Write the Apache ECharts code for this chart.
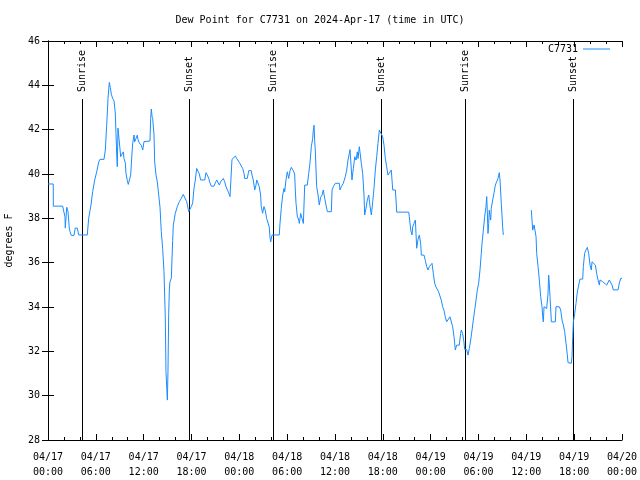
<!DOCTYPE html>
<html>
<head>
<meta charset="utf-8">
<script src="https://cdn.jsdelivr.net/npm/echarts@6/dist/echarts.min.js"></script>
<style>html,body{margin:0;padding:0;background:#fff}#c{width:640px;height:480px}</style>
</head>
<body>
<div id="c"></div>
<script>
// Hours since 2024-04-17 00:00 UTC
const hours = [
0,0.66,0.67,1.84,2.13,2.17,2.35,2.51,2.67,2.76,2.92,3.26,3.42,3.68,3.85,4.93,5.1,5.39,5.6,5.86,
6.11,6.36,6.52,7.02,7.19,7.36,7.53,7.69,7.82,7.94,8.11,8.28,8.44,8.62,8.69,8.78,8.94,9.12,9.28,9.45,
9.53,9.7,9.78,9.95,10.07,10.2,10.37,10.54,10.62,10.79,10.87,11.04,11.2,11.29,11.45,11.7,11.88,12.04,12.2,12.79,
12.88,12.96,13.05,13.13,13.3,13.38,13.55,13.71,13.89,14.05,14.21,14.38,14.55,14.71,14.8,14.97,15.05,15.14,15.22,15.3,
15.47,15.55,15.64,15.72,15.97,16.22,16.47,16.72,16.97,17.22,17.4,17.65,17.81,17.98,18.15,18.31,18.48,18.65,18.82,18.98,
19.15,19.66,19.82,19.99,20.16,20.32,20.49,20.82,20.99,21.16,21.32,21.49,21.66,21.83,21.99,22.16,22.33,22.5,22.67,22.83,
22.99,23.08,23.33,23.5,23.67,23.83,24.0,24.17,24.42,24.59,24.67,25.0,25.18,25.5,25.59,25.75,25.93,26.09,26.18,26.34,
26.5,26.67,26.75,26.92,27.09,27.25,27.42,27.59,27.75,27.84,27.93,28.1,29.01,29.1,29.26,29.44,29.6,29.69,29.85,30.02,
30.19,30.36,30.52,30.77,30.94,31.02,31.11,31.27,31.45,31.52,31.7,31.86,32.03,32.2,32.53,32.7,32.86,33.03,33.2,33.28,
33.37,33.45,33.53,33.62,33.7,33.87,33.95,34.03,34.2,34.37,34.53,34.71,34.87,35.04,35.54,35.63,35.8,36.04,36.54,36.63,
36.79,37.04,37.29,37.47,37.63,37.8,37.88,37.97,38.13,38.3,38.48,38.64,38.8,38.89,39.05,39.13,39.3,39.47,39.64,39.72,
39.89,40.05,40.23,40.4,40.56,40.73,40.89,41.06,41.23,41.39,41.56,41.64,41.73,41.98,42.15,42.31,42.48,42.65,42.81,43.06,
43.15,43.24,43.57,43.65,43.74,45.25,45.32,45.5,45.66,45.75,45.91,46.08,46.16,46.25,46.41,46.58,46.75,46.83,47.17,47.33,
47.5,47.67,47.83,48.0,48.17,48.33,48.5,48.66,48.83,49.0,49.17,49.33,49.5,49.67,49.83,50.0,50.17,50.42,50.58,50.76,
50.93,51.09,51.26,51.59,51.76,51.84,52.01,52.17,52.26,52.52,52.68,52.85,53.02,53.19,53.35,53.52,53.69,53.85,54.02,54.19,
54.35,54.44,54.61,54.77,54.94,55.03,55.1,55.19,55.28,55.35,55.53,55.6,55.78,55.94,56.11,56.28,56.45,56.61,56.7,56.86,
57.03,57.11,58.9,
60.63,60.71,60.8,60.97,61.13,61.22,61.3,61.47,61.63,61.8,61.97,62.05,62.13,62.22,62.38,62.55,62.72,62.8,62.88,62.97,
63.14,63.64,63.72,64.14,64.31,64.48,64.64,64.81,64.98,65.14,65.23,65.64,65.73,65.82,65.9,66.07,66.23,66.4,66.57,66.73,
67.07,67.15,67.31,67.48,67.65,67.82,67.99,68.15,68.24,68.49,68.66,68.82,68.99,69.16,69.24,69.41,69.58,69.83,70.08,70.25,
70.41,70.58,70.75,70.91,71.5,71.66,71.83,72.0
];
const dewPoint = [
39.55,39.55,38.55,38.55,38.07,37.56,38.5,38.3,37.56,37.4,37.23,37.23,37.56,37.56,37.25,37.25,38.0,38.6,39.2,39.73,
40.1,40.54,40.66,40.66,41.08,42.2,43.41,44.13,43.9,43.6,43.41,43.3,42.75,40.86,40.33,42.07,42.1,40.78,40.9,41.0,
40.7,40.5,40.04,39.7,39.53,39.53,39.95,40.94,41.38,41.76,41.45,41.6,41.75,41.55,41.4,41.3,41.08,41.46,41.49,41.49,
42.5,42.93,42.6,42.5,41.76,40.55,39.95,39.65,39.05,38.5,37.4,36.65,35.6,33.56,31.08,29.8,31.08,33.7,34.77,35.14,
35.3,36.12,37.0,37.7,38.23,38.53,38.75,38.9,39.08,39.08,38.75,38.3,38.3,38.53,38.7,39.35,39.73,40.25,40.25,40.0,
39.73,39.73,40.06,39.95,39.8,39.6,39.45,39.45,39.6,39.73,39.8,39.5,39.65,39.73,39.8,39.65,39.43,39.28,39.15,38.98,
38.98,40.66,40.75,40.81,40.7,40.63,40.52,40.48,40.25,40.03,39.8,39.8,40.15,40.15,39.95,39.73,39.28,39.5,39.73,39.8,
39.43,39.05,38.53,38.23,38.53,38.37,38.0,37.92,37.62,37.17,36.94,37.25,37.25,37.77,38.45,39.05,39.35,39.2,39.73,40.1,
39.8,40.15,40.3,40.15,40.0,39.28,38.67,38.1,37.92,37.77,38.22,38.0,37.77,39.5,39.5,40.03,40.48,41.23,41.6,41.98,
42.2,41.5,41.08,40.18,39.43,39.05,38.83,38.6,38.95,39.05,39.28,38.9,38.6,38.3,38.3,39.28,39.43,39.58,39.58,39.28,
39.43,39.58,39.88,40.18,40.63,40.93,41.1,40.63,39.73,40.25,40.78,40.63,41.0,40.7,41.23,41.0,40.48,40.03,39.05,38.15,
38.45,38.83,39.05,38.53,38.15,38.75,39.35,40.18,40.78,41.38,41.98,41.9,41.9,41.68,41.3,40.7,40.33,39.95,40.03,40.18,
39.73,39.28,39.28,38.83,38.28,38.28,38.07,37.47,37.25,37.62,37.77,37.92,37.32,36.65,37.05,37.25,36.85,36.34,36.34,36.1,
35.82,35.67,35.82,35.9,35.97,35.52,35.07,34.91,34.83,34.68,34.61,34.31,34.01,33.86,33.56,33.33,33.41,33.56,33.56,33.11,
32.66,32.06,32.28,32.28,32.81,32.96,32.81,32.43,32.09,32.09,31.83,32.13,32.51,32.96,33.41,33.86,34.31,34.76,35.07,35.67,
36.42,36.87,37.47,38.07,38.53,38.98,38.37,37.32,37.77,38.37,37.92,38.45,38.83,39.13,39.5,39.65,39.8,40.06,39.73,38.67,
37.62,37.25,null,
38.37,37.92,37.47,37.7,37.77,37.17,36.42,35.82,35.22,34.47,34.01,33.56,33.33,34.01,34.01,33.93,34.61,35.44,35.07,34.47,
33.33,33.33,34.01,34.01,33.86,33.41,33.19,32.89,32.36,31.84,31.49,31.46,31.76,32.66,33.33,33.71,34.16,34.68,34.99,35.26,
35.26,35.82,36.42,36.57,36.69,36.42,35.89,35.67,36.04,35.97,35.89,35.52,35.22,34.99,35.22,35.14,35.14,35.07,34.99,34.99,
35.22,35.14,34.99,34.77,34.77,35.07,35.29,35.29
];
const xTickLabels = ['04/17\n00:00','04/17\n06:00','04/17\n12:00','04/17\n18:00','04/18\n00:00','04/18\n06:00','04/18\n12:00','04/18\n18:00','04/19\n00:00','04/19\n06:00','04/19\n12:00','04/19\n18:00','04/20\n00:00'];
const sunEventHours = [4.28, 17.73, 28.23, 41.81, 52.33, 65.9];
const sunEventLabels = ['Sunrise','Sunset','Sunrise','Sunset','Sunrise','Sunset'];
const seriesName = 'C7731';

const FONT = 'DejaVu Sans Mono';
const chart = echarts.init(document.getElementById('c'), null, {renderer: 'canvas'});
const seriesData = hours.map((h, i) => [h, dewPoint[i]]);
const sunData = sunEventHours.map((h, i) => [h, i]);

const baseX = {
  type: 'value', min: 0, max: 72, interval: 6,
  axisLine: {show: true, lineStyle: {color: '#000', width: 1}},
  axisTick: {show: true, inside: true, length: 6, lineStyle: {color: '#000'}},
  minorTick: {show: true, splitNumber: 3, length: 3, lineStyle: {color: '#000'}},
  splitLine: {show: false}, minorSplitLine: {show: false}
};
const baseY = {
  type: 'value', min: 28, max: 46, interval: 2,
  axisLine: {show: true, lineStyle: {color: '#000', width: 1}},
  axisTick: {show: true, inside: true, length: 6, lineStyle: {color: '#000'}},
  splitLine: {show: false}
};

chart.setOption({
  animation: false,
  backgroundColor: '#fff',
  title: {
    text: 'Dew Point for C7731 on 2024-Apr-17 (time in UTC)',
    left: 'center', top: 10,
    textStyle: {fontFamily: FONT, fontSize: 10, fontWeight: 'normal', color: '#000'}
  },
  legend: {
    data: [{name: seriesName, icon: 'rect'}],
    right: 25, top: 39, align: 'right',
    itemWidth: 27, itemHeight: 1, itemGap: 5,
    textStyle: {fontFamily: FONT, fontSize: 10, color: '#000', padding: [0, 0, 0, 0]}
  },
  grid: {left: 48, right: 18, top: 41, bottom: 40, containLabel: false, outerBoundsMode: 'none'},
  xAxis: [
    Object.assign({}, baseX, {
      position: 'bottom',
      axisLabel: {
        show: true, margin: 10, color: '#000', fontFamily: FONT, fontSize: 10, lineHeight: 15,
        formatter: v => xTickLabels[Math.round(v / 6)]
      }
    }),
    Object.assign({}, baseX, {position: 'top', axisLabel: {show: false}})
  ],
  yAxis: [
    Object.assign({}, baseY, {
      position: 'left',
      name: 'degrees F', nameLocation: 'middle', nameGap: 34, nameRotate: 90,
      nameTextStyle: {fontFamily: FONT, fontSize: 10, color: '#000'},
      axisLabel: {show: true, margin: 8, color: '#000', fontFamily: FONT, fontSize: 10}
    }),
    Object.assign({}, baseY, {position: 'right', axisLabel: {show: false}})
  ],
  series: [
    {
      name: seriesName, type: 'line', data: seriesData,
      xAxisIndex: 0, yAxisIndex: 0,
      showSymbol: false, connectNulls: false,
      lineStyle: {color: '#1a8cff', width: 1},
      itemStyle: {color: '#1a8cff'}
    },
    {
      name: 'sun', type: 'custom', data: sunData,
      xAxisIndex: 0, yAxisIndex: 0,
      renderItem: function (params, api) {
        const t = api.value(0);
        const idx = api.value(1);
        const cs = params.coordSys;
        const bottom = api.coord([t, 28]);
        const x = Math.round(bottom[0]) + 0.5;
        const yTop = cs.y + 58;
        return {
          type: 'group',
          children: [
            {type: 'line', shape: {x1: x, y1: cs.y + cs.height, x2: x, y2: yTop},
             style: {stroke: '#000', lineWidth: 1}},
            {type: 'text', x: x, y: yTop - 7, rotation: Math.PI / 2,
             style: {text: sunEventLabels[idx], fontFamily: FONT, fontSize: 10, fill: '#000',
                     align: 'left', verticalAlign: 'middle'}}
          ]
        };
      }
    }
  ]
});
</script>
</body>
</html>
